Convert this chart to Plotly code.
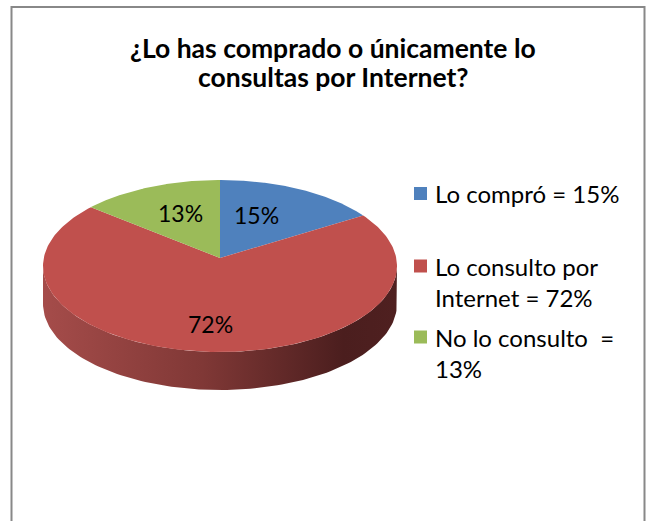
import numpy as np
import plotly.graph_objects as go

# ---- data ----
categories = ["Lo compró", "Lo consulto por Internet", "No lo consulto"]
values = [15, 72, 13]
pct_labels = ["15%", "72%", "13%"]
legend_lines = [["Lo compró = 15%"], ["Lo consulto por", "Internet = 72%"], ["No lo consulto  =", "13%"]]
title_lines = ["¿Lo has comprado o únicamente lo", "consultas por Internet?"]

# ---- style ----
top_colors = ["#4F81BD", "#C0504D", "#9BBB59"]
side_scales = [
    [[0, "#3E6796"], [0.5, "#2F4F73"], [0.85, "#1F3550"], [1, "#223A57"]],
    [[0, "#A54C4A"], [0.45, "#803836"], [0.85, "#4B1E1E"], [1, "#4F2020"]],
    [[0, "#7C9647"], [0.5, "#5E7236"], [0.85, "#3F4C24"], [1, "#435128"]],
]
FONT = "Lato"
W, H = 647, 521
cx, cy, rx, ry, depth = 220, 266, 177, 86, 38
apex_dy = -8

def ell(th_deg, dy=0.0):
    t = np.radians(th_deg)
    return cx + rx * np.cos(t), cy - ry * np.sin(t) + dy

fig = go.Figure()

total = float(sum(values))
ranges = []
start = 90.0
for v in values:
    end = start - 360.0 * v / total
    ranges.append((end, start))
    start = end

# side faces (front half)
for (a, b), sc in zip(ranges, side_scales):
    for k in (-1, 0, 1):
        lo, hi = max(a, -180 + 360 * k), min(b, 0 + 360 * k)
        if hi - lo <= 0.01:
            continue
        th = np.linspace(lo, hi, 120)
        xt, yt = ell(th)
        xb, yb = ell(th[::-1], depth)
        fig.add_trace(go.Scatter(
            x=np.concatenate([xt, xb, xt[:1]]), y=np.concatenate([yt, yb, yt[:1]]),
            mode="lines", line=dict(width=0), fill="toself",
            fillgradient=dict(type="horizontal", colorscale=sc),
            hoverinfo="skip", showlegend=False))

# top faces
ax_, ay_ = cx, cy + apex_dy
for (a, b), col, name in zip(ranges, top_colors, categories):
    th = np.linspace(b, a, 200)
    xs, ys = ell(th)
    fig.add_trace(go.Scatter(
        x=np.concatenate([[ax_], xs, [ax_]]), y=np.concatenate([[ay_], ys, [ay_]]),
        mode="lines", line=dict(width=0), fill="toself", fillcolor=col,
        name=name, hoverinfo="name", showlegend=False))

# percentage labels
for (a, b), lab in zip(ranges, pct_labels):
    t = np.radians((a + b) / 2)
    fig.add_annotation(x=cx + 0.5 * rx * np.cos(t) - 4, y=cy - 0.67 * ry * np.sin(t),
                       text=lab, showarrow=False,
                       font=dict(family=FONT, size=23, color="#000000"))

# legend (custom)
sq_y = [193.5, 266, 337]
line_h = 31.5
for yv, col, lines in zip(sq_y, top_colors, legend_lines):
    fig.add_shape(type="rect", x0=414, x1=427, y0=yv - 6.5, y1=yv + 6.5,
                  fillcolor=col, line=dict(width=0))
    for i, txt in enumerate(lines):
        fig.add_annotation(x=433, y=yv + i * line_h, text=txt, showarrow=False,
                           xanchor="left", yanchor="middle", align="left",
                           font=dict(family=FONT, size=24, color="#000000"))

# title
for i, txt in enumerate(title_lines):
    fig.add_annotation(x=333, y=48 + 29 * i, text="<b>" + txt + "</b>", showarrow=False,
                       yanchor="middle",
                       font=dict(family=FONT, size=26.5, color="#000000"))

# chart border
fig.add_shape(type="rect", x0=11.5, x1=644.5, y0=7, y1=560,
              line=dict(color="#888888", width=2), fillcolor="rgba(0,0,0,0)")

fig.update_xaxes(range=[0, W], visible=False, fixedrange=True)
fig.update_yaxes(range=[H, 0], visible=False, fixedrange=True)
fig.update_layout(width=W, height=H, margin=dict(l=0, r=0, t=0, b=0),
                  paper_bgcolor="white", plot_bgcolor="white")
fig.write_html("out.html", config={"displayModeBar": False},
               post_script="document.body.style.margin='0';document.body.style.overflow='hidden';")
